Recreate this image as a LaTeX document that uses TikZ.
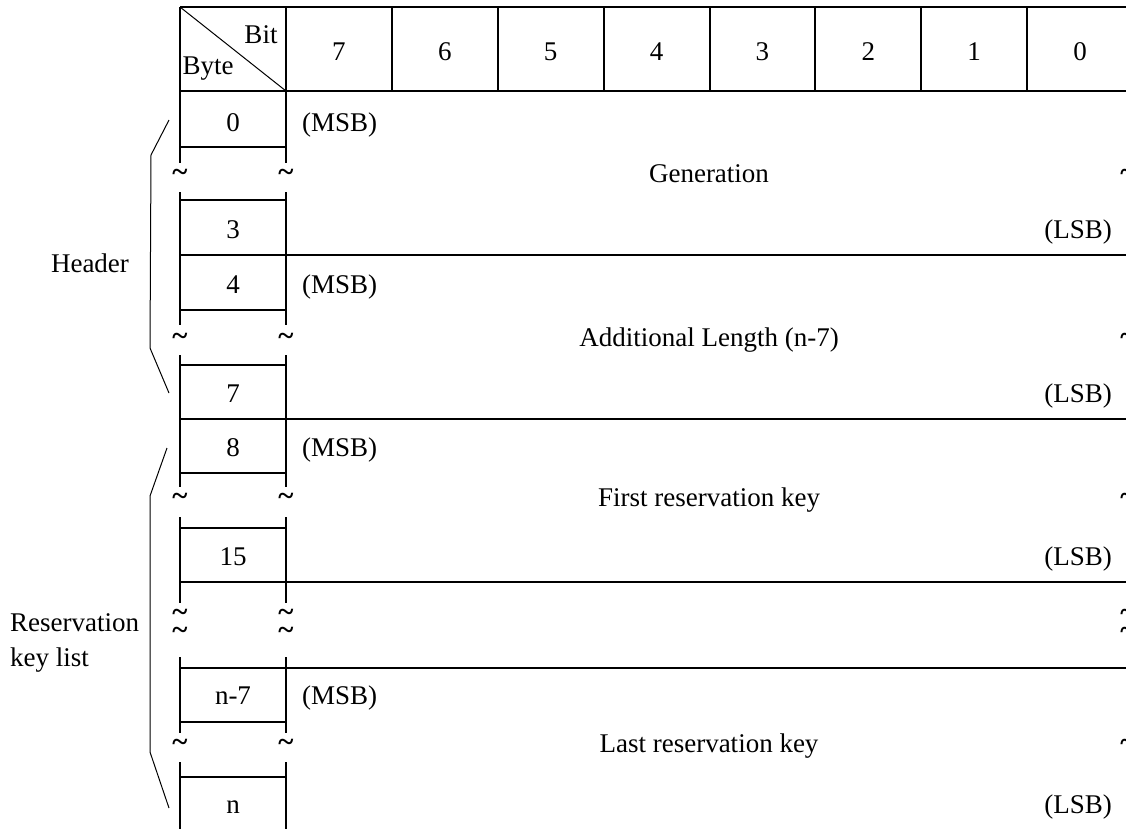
\documentclass[tikz,border=0pt]{standalone}
\usepackage{fontspec}
\setmainfont{Liberation Serif}
\begin{document}
\begin{tikzpicture}[x=1pt,y=-1pt,
  tbl/.style={line width=2pt},
  brc/.style={line width=1pt},
  lbl/.style={inner sep=0pt, font=\fontsize{27}{32}\selectfont},
  tld/.style={inner sep=0pt, font=\fontsize{29}{32}\selectfont\bfseries}]
\useasboundingbox (0,0) rectangle (1126,828);
\clip (0,0) rectangle (1126,828);
% vertical borders with breaks
\foreach \x in {180,286,1133}{
  \foreach \a/\b in {7/163,192/325,355/487,517/603,657/733,762/840}
    \draw[tbl] (\x,\a) -- (\x,\b);
}
% full-width horizontal lines
\foreach \y in {7,91,255,419,582,668}
  \draw[tbl] (180,\y) -- (1133,\y);
% byte column horizontal lines
\foreach \y in {147,200,310,365,473,528,722,777}
  \draw[tbl] (180,\y) -- (286,\y);
% header column separators and labels
\foreach \d [count=\i from 0] in {7,6,5,4,3,2,1,0}{
  \draw[tbl] ({286+105.875*(\i+1)},7) -- ({286+105.875*(\i+1)},91);
  \node[lbl, anchor=base] (bit\d) at ({286+105.875*(\i+0.5)},60) {\d};
}
\draw[brc] (180,7) -- (286,91);
\node[lbl, anchor=base] (bitlbl) at (261,43) {Bit};
\node[lbl, anchor=base] (bytelbl) at (208,74) {Byte};
% tildes
\foreach \x in {180,286,1128}{
  \foreach \y in {173,337,497,613,631,743}
    \node[tld, anchor=base] (t-\x-\y) at (\x,{\y+8}) {\textasciitilde};
}
% byte numbers
\foreach \t/\yy in {0/131,3/238,4/293,7/402,8/456,15/565,n-7/704,n/813}
  \node[lbl, anchor=base] (b-\t) at (233,\yy) {\t};
% MSB / LSB
\foreach \yy in {131,293,456,704}
  \node[lbl, anchor=base west] (msb\yy) at (302,\yy) {(MSB)};
\foreach \yy in {238,402,565,813}
  \node[lbl, anchor=base east] (lsb\yy) at (1112,\yy) {(LSB)};
% field names
\node[lbl, anchor=base] (gen) at (709,182) {Generation};
\node[lbl, anchor=base] (addl) at (709,346) {Additional Length (n-7)};
\node[lbl, anchor=base] (first) at (709,506) {First reservation key};
\node[lbl, anchor=base] (last) at (709,752) {Last reservation key};
% braces
\draw[brc] (169,120) -- (151,155) -- (150,348) -- (169,393);
\draw[brc] (167,448) -- (150,496) -- (150,752) -- (169,808);
\node[lbl, anchor=base] (hdr) at (90,272) {Header};
\node[lbl, anchor=base west] (res1) at (10,631) {Reservation};
\node[lbl, anchor=base west] (res2) at (10,666) {key list};
\end{tikzpicture}
\end{document}
